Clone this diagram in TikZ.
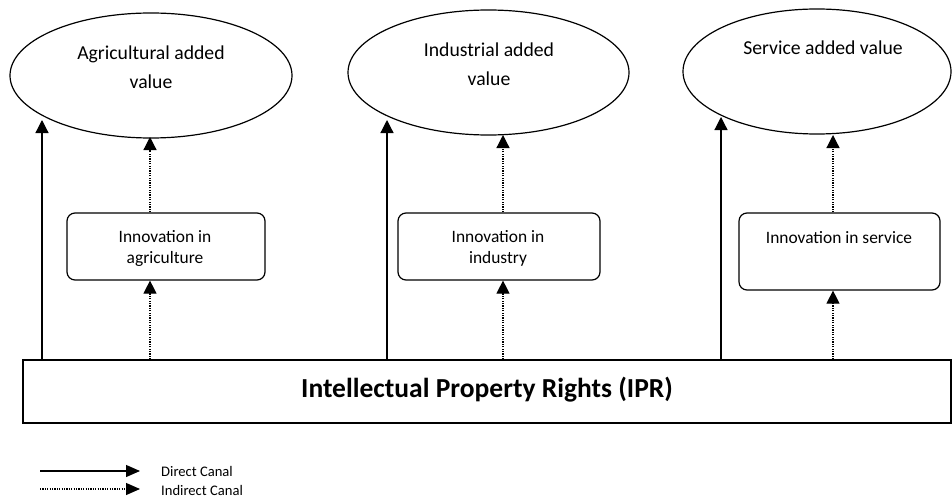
\documentclass[tikz,border=0pt]{standalone}
\usepackage{fontspec}
\setmainfont{Carlito}
\usetikzlibrary{arrows.meta,shapes.geometric}
\begin{document}
\begin{tikzpicture}[x=1pt,y=-1pt,
  ell/.style={draw,ellipse,line width=1.2pt,inner sep=0pt,minimum height=125pt},
  ibox/.style={draw,rounded corners=8pt,line width=1.2pt,inner sep=0pt},
  etext/.style={align=center,inner sep=0pt,font=\fontsize{19.7}{29}\selectfont},
  btext/.style={align=center,inner sep=0pt,font=\fontsize{17.4}{21}\selectfont},
  ltext/.style={anchor=west,inner sep=0pt,font=\fontsize{14.6}{18}\selectfont},
  direct/.style={line width=1.2pt,-{Triangle[width=13pt,length=13pt]}},
  indirect/.style={line width=1.2pt,dash pattern=on 1.2pt off 1.2pt,-{Triangle[width=13pt,length=13pt]}},
  ldirect/.style={line width=1.2pt,-{Triangle[width=12pt,length=14pt]}},
  lindirect/.style={line width=1.2pt,dash pattern=on 1.2pt off 1.2pt,-{Triangle[width=12pt,length=14pt]}}]
\useasboundingbox (0,0) rectangle (952,500);

% ellipses
\node[ell,minimum width=282pt] (e1) at (151,75.5) {};
\node[ell,minimum width=281pt] (e2) at (488.5,72.5) {};
\node[ell,minimum width=268pt] (e3) at (817,71.5) {};
\node[etext] (t1) at (151,67) {Agricultural added\\value};
\node[etext] (t2) at (489,64) {Industrial added\\value};
\node[etext] (t3) at (823,48) {Service added value};

% innovation boxes
\node[ibox,minimum width=198pt,minimum height=67pt] (b1) at (166,246.5) {};
\node[ibox,minimum width=202pt,minimum height=67pt] (b2) at (499,246.5) {};
\node[ibox,minimum width=201pt,minimum height=77pt] (b3) at (839.5,251.5) {};
\node[btext] (bt1) at (165,248) {Innovation in\\agriculture};
\node[btext] (bt2) at (498,248) {Innovation in\\industry};
\node[btext] (bt3) at (839,238) {Innovation in service};

% IPR bar
\node[draw,line width=1.4pt,minimum width=928pt,minimum height=63pt,inner sep=0pt] (bar) at (487,391.5) {};
\node[inner sep=0pt,font=\fontsize{27.5}{33}\selectfont\bfseries] (bart) at (487,390) {Intellectual Property Rights (IPR)};

% direct arrows
\coordinate (d1) at (42,120);
\coordinate (d2) at (387,120);
\coordinate (d3) at (721,117);
\draw[direct] (bar.north -| d1) -- (d1);
\draw[direct] (bar.north -| d2) -- (d2);
\draw[direct] (bar.north -| d3) -- (d3);

% indirect arrows (box -> ellipse)
\coordinate (i1) at (150,137);
\coordinate (i2) at (503,135);
\coordinate (i3) at (833,135);
\draw[indirect] (b1.north -| i1) -- (i1);
\draw[indirect] (b2.north -| i2) -- (i2);
\draw[indirect] (b3.north -| i3) -- (i3);

% indirect arrows (bar -> box)
\draw[indirect] (bar.north -| i1) -- (b1.south -| i1);
\draw[indirect] (bar.north -| i2) -- (b2.south -| i2);
\draw[indirect] (bar.north -| i3) -- (b3.south -| i3);

% legend
\node[ltext] (ld) at (161,471) {Direct Canal};
\node[ltext] (li) at (161,490) {Indirect Canal};
\coordinate (ls1) at (40,471);
\coordinate (ls2) at (40,489);
\draw[ldirect] (ls1) -- ([xshift=-21pt]ld.west |- ls1);
\draw[lindirect] (ls2) -- ([xshift=-21pt]li.west |- ls2);
\end{tikzpicture}
\end{document}
